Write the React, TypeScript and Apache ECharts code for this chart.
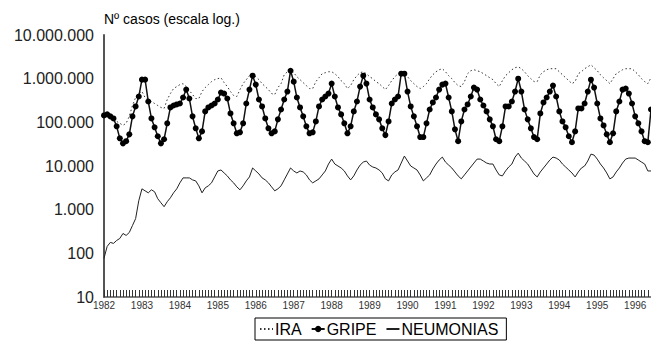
import React, { useEffect, useRef } from "react";
import * as echarts from "echarts";

const YEARS = [1982, 1983, 1984, 1985, 1986, 1987, 1988, 1989, 1990, 1991, 1992, 1993, 1994, 1995, 1996];
const MONTHS = ["01", "02", "03", "04", "05", "06", "07", "08", "09", "10", "11", "12"];

// Monthly values, Jan 1982 .. Jun 1996 (one row per year)
const IRA = [
  null, null, null, 117000, 105000, 95000, 85500, 95000, 137000, 243000, 370000, 456000,
  507000, 370000, 333000, 300000, 270000, 243000, 219000, 208000, 333000, 456000, 593000, 658000,
  731000, 770000, 658000, 534000, 433000, 351000, 351000, 507000, 624000, 731000, 855000, 949000,
  1000000, 1050000, 811000, 658000, 507000, 411000, 390000, 562000, 770000, 949000, 1170000, 1300000,
  1110000, 949000, 770000, 658000, 562000, 456000, 433000, 624000, 770000, 1230000, 1440000, 1600000,
  1370000, 1110000, 949000, 811000, 693000, 593000, 593000, 855000, 1050000, 1300000, 1370000, 1440000,
  1440000, 1300000, 1110000, 901000, 770000, 593000, 693000, 949000, 1170000, 1370000, 1440000, 1300000,
  1110000, 1000000, 855000, 770000, 658000, 562000, 693000, 901000, 1110000, 1300000, 1440000, 1300000,
  1110000, 901000, 770000, 658000, 593000, 658000, 770000, 1000000, 1230000, 1440000, 1600000, 1690000,
  1440000, 1170000, 1000000, 811000, 693000, 658000, 855000, 1300000, 1520000, 1600000, 1520000, 1440000,
  1300000, 1170000, 1050000, 949000, 770000, 658000, 901000, 1170000, 1370000, 1600000, 1780000, 1870000,
  1690000, 1440000, 1170000, 1000000, 855000, 855000, 1230000, 1440000, 1600000, 1690000, 1690000, 1690000,
  1440000, 1230000, 1050000, 901000, 770000, 855000, 1300000, 1440000, 1690000, 1870000, 2080000, 1780000,
  1520000, 1230000, 1050000, 901000, 770000, 1000000, 1300000, 1440000, 1600000, 1690000, 1690000, 1690000,
  1440000, 1230000, 1000000, 855000, 770000, 1050000,
];

const GRIPE = [
  144000, 152000, 137000, 123000, 81000, 43000, 33000, 37000, 53000, 137000, 231000, 390000,
  950000, 950000, 300000, 123000, 77000, 48000, 33000, 41000, 95000, 219000, 243000, 257000,
  270000, 370000, 562000, 351000, 137000, 73000, 43000, 62000, 178000, 219000, 243000, 270000,
  333000, 481000, 456000, 351000, 160000, 95000, 56000, 59000, 95000, 270000, 562000, 1170000,
  731000, 333000, 231000, 123000, 73000, 56000, 62000, 117000, 197000, 333000, 507000, 1520000,
  855000, 370000, 219000, 137000, 81000, 56000, 59000, 105000, 231000, 333000, 390000, 456000,
  770000, 390000, 219000, 152000, 95000, 56000, 81000, 178000, 300000, 658000, 1170000, 770000,
  333000, 219000, 152000, 117000, 73000, 51000, 105000, 270000, 333000, 390000, 1300000, 1300000,
  507000, 231000, 137000, 81000, 46000, 46000, 95000, 197000, 285000, 370000, 562000, 731000,
  770000, 370000, 178000, 69000, 37000, 105000, 197000, 257000, 390000, 624000, 562000, 333000,
  243000, 178000, 117000, 81000, 41000, 37000, 81000, 231000, 231000, 300000, 507000, 1000000,
  507000, 197000, 117000, 73000, 46000, 41000, 160000, 285000, 370000, 507000, 693000, 390000,
  178000, 105000, 77000, 48000, 35000, 62000, 208000, 208000, 270000, 507000, 949000, 624000,
  270000, 123000, 85000, 53000, 35000, 56000, 178000, 300000, 562000, 593000, 456000, 270000,
  137000, 95000, 62000, 37000, 35000, 197000,
];

const NEUMONIAS = [
  77, 144, 178, 169, 197, 219, 285, 257, 300, 433, 624, 1600,
  3000, 2700, 2430, 2850, 2570, 1780, 1440, 1170, 1520, 1870, 2430, 3000,
  4110, 5340, 5340, 5340, 4810, 4560, 3510, 2430, 3160, 3510, 4110, 5620,
  7700, 8110, 6930, 5930, 4810, 4110, 3330, 2850, 3510, 4560, 5620, 9010,
  7700, 6580, 5340, 4810, 4110, 3330, 2700, 3000, 3510, 4810, 6580, 9010,
  7700, 6930, 7700, 7310, 6240, 4810, 4110, 4560, 5070, 6240, 7700, 11100,
  14400, 11100, 10000, 9010, 7700, 5930, 4810, 5930, 8110, 10500, 12300, 13000,
  10500, 9490, 9010, 8110, 6930, 5070, 4560, 6240, 7310, 8110, 11700, 16900,
  13000, 10000, 9010, 8110, 6240, 4560, 5340, 6240, 8550, 11100, 13700, 16000,
  12300, 10500, 9010, 7310, 5930, 5070, 6240, 7700, 9490, 11700, 14400, 14400,
  13000, 11700, 11100, 11100, 8110, 6240, 5930, 7700, 9490, 11100, 16000, 19700,
  15200, 13000, 11100, 8550, 6580, 5620, 7310, 9010, 11100, 13700, 16000, 15200,
  13700, 11100, 9490, 8110, 6930, 5620, 7310, 9010, 10000, 13000, 18700, 17800,
  14400, 11100, 9010, 6930, 5070, 5620, 7310, 9010, 11700, 14400, 15200, 15200,
  15200, 13700, 12300, 11100, 7700, 7700,
];

const CATEGORIES = YEARS.flatMap((y) => MONTHS.map((m) => `${y}-${m}`)).slice(0, GRIPE.length);

const FONT = "'Liberation Sans', Arial, sans-serif";

const fmtThousands = (v: number) =>
  Math.round(v).toString().replace(/\B(?=(\d{3})+(?!\d))/g, ".");

const HIDDEN_SYMBOL = { color: "rgba(0,0,0,0)", borderColor: "rgba(0,0,0,0)", borderWidth: 0 };

export default function App() {
  const ref = useRef<HTMLDivElement>(null);
  useEffect(() => {
    if (!ref.current) return;
    const chart = echarts.init(ref.current, undefined, { renderer: "svg" });
    chart.setOption({
      animation: false,
      backgroundColor: "#fff",
      textStyle: { fontFamily: FONT },
      grid: { left: 104, right: 0, top: 35, bottom: 45, containLabel: false },
      legend: {
        left: 255,
        top: 318,
        padding: [3, 8, 3, 4],
        itemGap: 9,
        itemWidth: 13,
        itemHeight: 8,
        borderColor: "#000",
        borderWidth: 1,
        borderRadius: 0,
        textStyle: { fontFamily: FONT, fontSize: 16, color: "#000", padding: [0, 0, 0, -3] },
        data: [
          { name: "IRA", itemStyle: HIDDEN_SYMBOL },
          { name: "GRIPE" },
          { name: "NEUMONIAS", itemStyle: HIDDEN_SYMBOL },
        ],
      },
      xAxis: {
        type: "category",
        data: CATEGORIES,
        boundaryGap: false,
        axisLine: { lineStyle: { color: "#555", width: 1.5 } },
        axisTick: { show: true, inside: true, length: 7, interval: 0, lineStyle: { color: "#333", width: 1 } },
        axisLabel: {
          interval: 11,
          margin: 3,
          fontSize: 10,
          color: "#333",
          fontFamily: FONT,
          formatter: (v: string) => v.slice(0, 4),
        },
        splitLine: { show: false },
      },
      yAxis: {
        type: "log",
        logBase: 10,
        min: 10,
        max: 10000000,
        name: "Nº casos (escala log.)",
        nameLocation: "end",
        nameGap: 9,
        nameTextStyle: { align: "left", fontSize: 14, color: "#000", fontFamily: FONT },
        axisLine: { show: true, lineStyle: { color: "#555", width: 2 } },
        axisTick: { show: false },
        splitLine: { show: false },
        axisLabel: {
          margin: 10,
          fontSize: 16,
          color: "#222",
          fontFamily: FONT,
          formatter: (v: number) => fmtThousands(v),
        },
      },
      series: [
        {
          name: "IRA",
          type: "line",
          data: IRA,
          symbol: "none",
          connectNulls: false,
          lineStyle: { color: "#333", width: 1, type: [1.5, 2.5] },
          itemStyle: { color: "#333" },
        },
        {
          name: "GRIPE",
          type: "line",
          data: GRIPE,
          symbol: "circle",
          symbolSize: 6,
          showSymbol: true,
          showAllSymbol: true,
          lineStyle: { color: "#111", width: 1.5 },
          itemStyle: { color: "#000" },
        },
        {
          name: "NEUMONIAS",
          type: "line",
          data: NEUMONIAS,
          symbol: "none",
          lineStyle: { color: "#222", width: 1 },
          itemStyle: { color: "#222" },
        },
      ],
    });
    return () => chart.dispose();
  }, []);
  return <div ref={ref} style={{ width: 651, height: 342, position: "absolute", left: 0, top: 0 }} />;
}
